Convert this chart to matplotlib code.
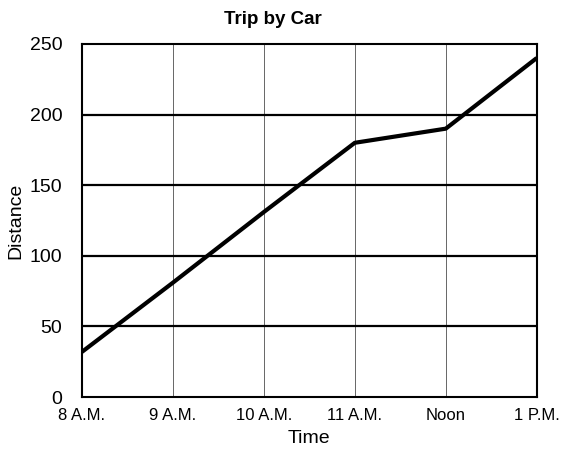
import matplotlib
matplotlib.use("Agg")
import matplotlib.pyplot as plt

times = ["8 A.M.", "9 A.M.", "10 A.M.", "11 A.M.", "Noon", "1 P.M."]
distance = [32, 81, 131, 180, 190, 240]
y_ticks = [0, 50, 100, 150, 200, 250]

plt.rcParams['font.family'] = ['Liberation Sans', 'DejaVu Sans']

fig = plt.figure(figsize=(5.65, 4.57), dpi=100)
ax = fig.add_axes([0.145, 0.131, 0.805, 0.773])

x = list(range(len(times)))
for xi in x[1:-1]:
    ax.axvline(xi, color='#666666', lw=0.7, zorder=1)
for yv in y_ticks[1:-1]:
    ax.axhline(yv, color='black', lw=1.6, zorder=1)

ax.plot(x, distance, color='black', lw=3, solid_capstyle='butt', zorder=3)

ax.set_xlim(0, len(times) - 1)
ax.set_ylim(0, 250)
ax.set_xticks(x)
ax.set_xticklabels(times, fontsize=12)
ax.set_yticks(y_ticks)
ax.set_yticklabels([str(v) for v in y_ticks], fontsize=14)
ax.tick_params(axis='both', length=0)
ax.tick_params(axis='y', pad=14)
ax.tick_params(axis='x', pad=8)
for s in ax.spines.values():
    s.set_linewidth(1.5)
    s.set_color('black')

ax.set_title("Trip by Car", fontsize=13.5, fontweight='bold', pad=14, x=0.42)
ax.set_xlabel("Time", fontsize=14, labelpad=5)
ax.set_ylabel("Distance", fontsize=14, labelpad=4)

fig.savefig("out.png", dpi=100)
